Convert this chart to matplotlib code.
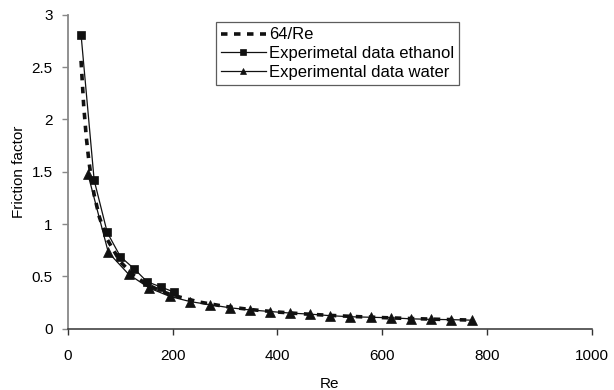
import numpy as np
import matplotlib.pyplot as plt

plt.rcParams['font.family'] = ['Liberation Sans', 'DejaVu Sans']

# 64/Re reference curve
re_theory = [25, 30, 35, 40, 45, 50, 60, 75, 100, 125, 150, 175, 200, 250, 300,
             350, 400, 450, 500, 550, 600, 650, 700, 767]

# ethanol
re_eth = [25, 50, 75, 100, 127, 151, 177, 203]
f_eth = [2.81, 1.42, 0.92, 0.69, 0.57, 0.45, 0.40, 0.35]

# water
re_wat = [38, 77, 116, 155, 194, 233, 271, 310, 348, 386, 424, 462, 501, 539,
          578, 616, 655, 693, 732, 772]
f_wat = [1.48, 0.73, 0.52, 0.39, 0.31, 0.26, 0.23, 0.20, 0.18, 0.165, 0.15,
         0.14, 0.125, 0.115, 0.11, 0.105, 0.095, 0.09, 0.087, 0.082]

fig = plt.figure(figsize=(6.14, 3.9), dpi=100)
ax = fig.add_axes([0.1107, 0.157, 0.853, 0.805])

f_theory = 64 / np.array(re_theory)
ax.plot(re_theory, f_theory, color='#111111', lw=2.6, ls=(0, (1.8, 1.8)),
        label='64/Re', zorder=3)
ax.plot(re_eth, f_eth, color='#111111', lw=0.9, marker='s', ms=6.3, mew=0.5,
        label='Experimetal data ethanol', zorder=2)
ax.plot(re_wat, f_wat, color='#111111', lw=0.9, marker='^', ms=6.5, mew=0.5,
        label='Experimental data water', zorder=2)

ax.set_xlim(0, 1000)
ax.set_ylim(0, 3)
ax.set_xticks(range(0, 1001, 200))
ax.set_yticks([0, 0.5, 1, 1.5, 2, 2.5, 3])
ax.set_yticklabels(['0', '0.5', '1', '1.5', '2', '2.5', '3'])
ax.tick_params(direction='out', length=4.5, width=1, color='#888888',
               labelsize=11)
ax.tick_params(axis='x', pad=10, color='#333333')
ax.tick_params(axis='y', pad=6.5)
for s in ['top', 'right']:
    ax.spines[s].set_visible(False)
ax.spines['left'].set_color('#888888')
ax.spines['left'].set_linewidth(1.3)
ax.spines['bottom'].set_color('#333333')
ax.spines['bottom'].set_linewidth(1.1)

ax.set_xlabel('Re', fontsize=11, labelpad=10)
ax.set_ylabel('Friction factor', fontsize=11, labelpad=4)

leg = ax.legend(loc='upper left', bbox_to_anchor=(0.282, 0.976), fontsize=12,
                frameon=True, fancybox=False, edgecolor='#333333',
                handlelength=2.7, handletextpad=0.2, borderpad=0.3,
                labelspacing=0.22, borderaxespad=0)
leg.get_frame().set_linewidth(0.9)
for h in leg.legend_handles[1:]:
    h.set_markersize(5)

fig.savefig('out.png', dpi=100)
